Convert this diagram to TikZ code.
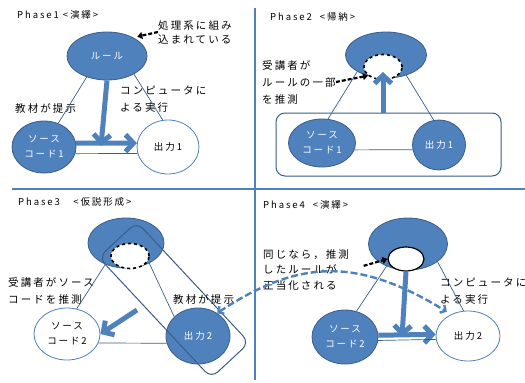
\documentclass[tikz,border=0pt]{standalone}
\usepackage{fontspec}
\setmainfont{Noto Sans CJK JP}[LetterSpace=20]
\usetikzlibrary{shapes.geometric, arrows.meta}
\definecolor{fillblue}{HTML}{4F81BD}
\definecolor{lineblue}{HTML}{385D8A}

\begin{document}
\begin{tikzpicture}[x=1pt, y=-1pt,
   txt/.style = {font=\fontsize{10.5}{17}\selectfont, align=left, inner sep=0},
   title/.style = {font=\fontsize{9.5}{10}\selectfont, anchor=west, inner sep=0},
   blob/.style = {ellipse, inner sep=0, minimum width=64, minimum height=52,
      font=\fontsize{9.5}{15}\selectfont, align=center, line width=0.8pt},
   fullnode/.style = {blob, draw=lineblue, fill=fillblue, text=white},
   opennode/.style = {blob, draw=fillblue, fill=white},
   rulenode/.style = {fullnode, minimum width=80, minimum height=48},
   guessnode/.style = {ellipse, draw, fill=white, line width=1.6pt,
      minimum width=38, minimum height=25, inner sep=0},
   thin/.style = {draw=lineblue, line width=0.7pt},
   bigarrow/.style = {draw=fillblue, line width=5pt,
      -{Straight Barb[length=8pt, width=17pt]}},
   hintarrow/.style = {draw=black, line width=2.2pt, dash pattern=on 4pt off 2pt,
      -{Triangle[length=5pt, width=7pt]}},
   linkarrow/.style = {draw=fillblue, line width=2.4pt, dash pattern=on 7pt off 3pt,
      {Straight Barb[length=4pt, width=9pt]}-{Straight Barb[length=4pt, width=9pt]}},
   framebox/.style = {draw=lineblue, line width=1pt, rounded corners=9pt, inner sep=0},
   divider/.style = {draw=fillblue, line width=1.2pt}]

\useasboundingbox (0,0) rectangle (525,383);

% quadrants
\draw[divider] (255,8) -- (255,380);
\draw[divider] (12,189) -- (525,189);

% Phase1
\node[title] (title1) at (17,15) {Phase1 <演繹>};
\node[rulenode] (rule1) at (107,56) {ルール};
\node[fullnode] (src1) at (44,147) {ソース\\コード1};
\node[opennode, minimum width=62, minimum height=54] (out1) at (168,147) {出力1};
\node[txt, anchor=west] (given1) at (15,108) {教材が提示};
\node[txt, anchor=west] (run1) at (120,99) {コンピュータに\\よる実行};
\node[txt, anchor=west, font=\fontsize{10.5}{14}\selectfont] (note1) at (158,32) {処理系に組み\\込まれている};

\draw[thin] (rule1.-134) -- (src1.59);
\draw[thin] (rule1.-34) -- (out1.101);
\draw[thin] (src1.-12) -- (out1.-168);
\draw[bigarrow] (src1.7) -- (out1.173);
\coordinate (drop1) at (101,146);
\draw[bigarrow] (rule1.south) -- (drop1);
\draw[hintarrow, shorten >=4pt] (note1.west) -- (rule1.35);

% Phase2
\node[title] (title2) at (270,17) {Phase2\ \ <帰納>};
\node[framebox, minimum width=225, minimum height=63] (box2) at (388.5,144.5) {};
\node[rulenode, minimum width=81, minimum height=46] (rule2) at (386,55) {};
\node[guessnode, dashed] (guess2) at (383,67) {};
\node[fullnode, minimum width=67, minimum height=48] (src2) at (322,143) {ソース\\コード1};
\node[fullnode, minimum width=53, minimum height=50] (out2) at (439,145) {出力1};
\node[txt, anchor=west] (guesslbl2) at (262,82) {受講者が\\ルールの一部\\を推測};

\draw[thin] (rule2.-150) -- (src2.76);
\draw[thin] (rule2.-45) -- (out2.102);
\draw[thin] (src2.-12) -- (out2.-170);
\coordinate (lift2) at (383,72);
\draw[bigarrow] (box2.north -| lift2) -- (lift2);
\draw[hintarrow] (guesslbl2.east) -- (guess2.210);

% Phase3
\node[title] (title3) at (18,202) {Phase3\quad\ <仮説形成>};
\node[rulenode, minimum width=76, minimum height=50] (rule3) at (126,243) {};
\node[opennode, minimum width=66] (src3) at (67,334) {ソース\\コード2};
\node[fullnode, minimum width=64, minimum height=56] (out3) at (198,336) {出力2};
\node[framebox, minimum width=165, minimum height=52, rotate=-47] (band3) at (174,300) {};
\node[guessnode, dashed] (guess3) at (130,256) {};
\node[txt, anchor=west] (guesslbl3) at (8,291) {受講者がソース\\コードを推測};
\node[txt, anchor=west] (given3) at (173,299) {教材が提示};

\draw[thin] (rule3.-134) -- (src3.69);
\draw[thin] (rule3.-41) -- (out3.141);
\draw[thin] (src3.-16) -- (out3.-167);
\coordinate (push3) at (137,310);
\draw[bigarrow] (push3) -- (src3.east);

% Phase4
\node[title] (title4) at (263,205) {Phase4\ \ <演繹>};
\node[rulenode, minimum width=79, minimum height=52] (rule4) at (408,244) {};
\node[guessnode, line width=1.2pt, minimum width=36, minimum height=24] (known4) at (406,259) {};
\node[fullnode, minimum width=66, minimum height=54] (src4) at (345,337) {ソース\\コード2};
\node[opennode, minimum width=64, minimum height=50] (out4) at (468,336) {出力2};
\node[txt, anchor=west, font=\fontsize{10.5}{16}\selectfont] (just4) at (263,270) {同じなら，推測\\したルールが\\正当化される};
\node[txt, anchor=west] (run4) at (440,291) {コンピュータに\\よる実行};

\draw[thin] (rule4.-134) -- (src4.66);
\draw[thin] (rule4.-31) -- (out4.100);
\draw[bigarrow] (src4.3) -- (out4.177);
\draw[thin] (src4.-6) -- (out4.-174);
\coordinate (drop4) at (402,337);
\draw[bigarrow] (known4.south) -- (drop4);
\draw[hintarrow, shorten <=15pt] (just4.east) -- (known4.west);

% Phase3 -> Phase4
\draw[linkarrow, shorten >=5pt] (out3.50) .. controls (300,258) and (359,258) .. (out4.128);

\end{tikzpicture}
\end{document}
